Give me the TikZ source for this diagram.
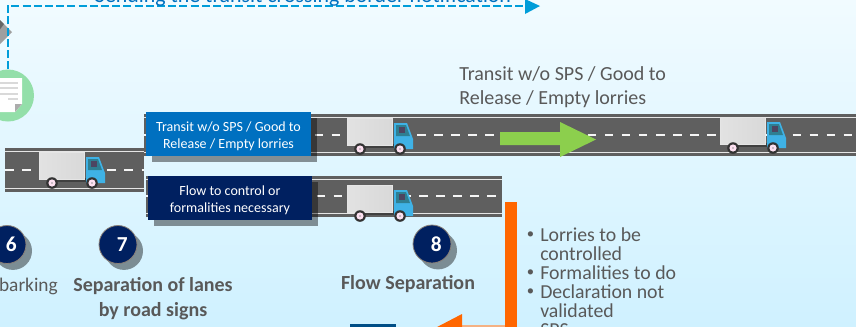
\documentclass[tikz,border=0pt]{standalone}
\usepackage{fontspec}
\setmainfont{Carlito}
\usetikzlibrary{shadows,arrows.meta}
\definecolor{roadgrey}{HTML}{5F5F5F}
\definecolor{stripe}{HTML}{E6E6E6}
\definecolor{txtgrey}{HTML}{595959}
\definecolor{navy}{HTML}{002060}
\definecolor{midblue}{HTML}{0070C0}
\definecolor{dashblue}{HTML}{009DD9}
\definecolor{limeg}{HTML}{8CCF4D}
\definecolor{orng}{HTML}{FF6600}
\definecolor{orngpale}{HTML}{F4B183}
\definecolor{bubble}{HTML}{93DFA9}
\definecolor{skytop}{HTML}{F1FBFF}
\definecolor{skylow}{HTML}{CFF1FF}
\definecolor{cabblue}{HTML}{3FB2E6}
\definecolor{cabglass}{HTML}{2F7F92}
\definecolor{boxgrey}{HTML}{E2E2E2}
\definecolor{discedge}{HTML}{8A8078}
\newcommand{\fs}[2]{\fontsize{#1}{#2}\selectfont}
\tikzset{
  x=0.75pt,y=-0.75pt,
  lblbox/.style={inner sep=0pt,text=white,align=center,font=\fs{10.5}{12.8},
    drop shadow={shadow xshift=4.5pt,shadow yshift=-4.5pt,fill=black,opacity=.42}},
  numdisc/.style={circle,minimum size=28.5pt,inner sep=0pt,fill=navy,draw=discedge,line width=.6pt,
    text=white,font=\fs{16}{18}\bfseries,
    drop shadow={shadow xshift=4.5pt,shadow yshift=-4.8pt,fill=black,opacity=.42}},
  capt/.style={text=txtgrey,align=center,inner sep=0pt,font=\fs{15}{18.5}\bfseries},
  plain/.style={text=txtgrey,inner sep=0pt,anchor=base west,font=\fs{15}{18}},
  blist/.style={text=txtgrey,inner sep=0pt,anchor=base west,font=\fs{14.85}{18}},
  dot/.style={text=txtgrey,inner sep=0pt,anchor=base,font=\fs{11}{12}},
  pics/lorry/.style={code={
    \fill[black!75] (10,26) rectangle (62,30);
    \fill[left color=boxgrey,right color=gray!30] (0,0) rectangle (45,27);
    \draw[white!80!gray,line width=.6pt] (0,0) rectangle (45,27);
    \fill[cabblue] (47,5) -- (60,5) -- (66,21) -- (66,31) -- (47,31) -- cycle;
    \fill[cabglass] (49,7) -- (59,7) -- (63,18) -- (49,18) -- cycle;
    \fill[purple!60!black,opacity=.45] (52,9) rectangle (58,15);
    \foreach \wx in {13,53}{
      \fill[black!80] (\wx,31) circle (5.8);
      \fill[white!88!magenta] (\wx,31) circle (3.6);
      \fill[black!40] (\wx,31) circle (.8);
    }
  }},
}
\newcommand{\roadlane}[6]{% x0,x1,top,bottom,centre,dash start
  \fill[roadgrey] (#1,#3) rectangle (#2,#4);
  \fill[stripe] (#1,#3+3) rectangle (#2,#3+4.4);
  \fill[stripe] (#1,#4-4.4) rectangle (#2,#4-3);
  \draw[white!92!gray,line width=1.1pt,dash pattern=on 6.4pt off 6.4pt,dash phase=#6] (#1,#5) -- (#2,#5);
}
\begin{document}
\begin{tikzpicture}
\path[use as bounding box,clip] (0,0) rectangle (856,326);
\shade[top color=skytop,bottom color=skylow] (0,0) rectangle (856,326);

% roads
\roadlane{5}{144}{148}{192}{170}{0pt}
\roadlane{144}{856}{114}{156}{135}{0pt}
\roadlane{146}{502}{176}{217}{196}{0pt}

% lorries
\pic at (347,118) {lorry};
\pic at (347,185) {lorry};
\pic at (720,117) {lorry};
\pic at (39,152) {lorry};

% diamond
\fill[gray!75] (-10,10) -- (12,32) -- (-10,54) -- (-32,32) -- cycle;
\fill[black!60] (-10,10) -- (4,24) -- (-2,32) -- (-10,40) -- cycle;

% document bubble
\node[circle,fill=bubble,minimum size=39pt,inner sep=0pt] (bub) at (8,95.5) {};
\fill[white] (-5,78) -- (22,78) -- (22,104) -- (15,112) -- (-5,112) -- cycle;
\fill[gray!65] (22,104) -- (15,112) -- (15,104) -- cycle;
\foreach \ly in {83,88,94}{\fill[gray!30] (-5,\ly-.7) rectangle (18,\ly+.7);}
\fill[gray!30] (8,98.3) rectangle (18,99.7);

% notification connector
\coordinate (cornerTL) at (8,5.5);
\coordinate (notifEnd) at (540,6);
\draw[dashblue,line width=1.5pt,dash pattern=on 6pt off 2.4pt] (bub.north) -- (cornerTL) -- (526,5.5);
\fill[dashblue] (525,-1) -- (notifEnd) -- (525,14) -- cycle;
\node[text=midblue,inner sep=0pt,anchor=base,font=\fs{16.4}{18}] (notif) at (303,2) {Sending the transit crossing border notification};

% labels
\node[lblbox,fill=midblue,minimum width=123.75pt,minimum height=33pt] (lblA) at (228.5,134)
  {\rule{0pt}{10pt}Transit w/o SPS / Good to\\Release / Empty lorries};
\node[lblbox,fill=navy,minimum width=123pt,minimum height=33pt] (lblB) at (230,198)
  {\rule{0pt}{10pt}Flow to control or\\formalities necessary};

% heading over road
\node[plain] at (459,80) {Transit w/o SPS / Good to};
\node[plain] at (459,104) {Release / Empty lorries};

% green arrow
\fill[limeg] (500,132) -- (560,132) -- (560,122) -- (596,139.5) -- (560,157) -- (560,145) -- (500,145) -- cycle;

% numbered discs
\node[numdisc] (n6) at (7,244.5) {\hspace*{6.5pt}6};
\node[numdisc] (n7) at (118,244.5) {\hspace*{6.5pt}7};
\node[numdisc] (n8) at (432,244) {\hspace*{6.5pt}8};

% captions
\node[text=txtgrey,inner sep=0pt,anchor=base east,font=\fs{14.5}{18}] at (58,291) {Embarking};
\node[capt,anchor=base] at (153,291) {Separation of lanes};
\node[capt,anchor=base] at (153,316) {by road signs};
\node[capt,anchor=base] at (408,289) {Flow Separation};

% orange connector
\fill[orng] (505,202) rectangle (517,330);
\fill[orngpale] (462,325) rectangle (505,327);
\fill[orng] (462,314) -- (416,338) -- (462,362) -- cycle;
\fill[midblue!70!black] (350,324) rectangle (396,340);

% bullets
\node[blist] at (540,241) {Lorries to be};
\node[blist] at (540,260.5) {controlled};
\node[blist] at (540,279) {Formalities to do};
\node[blist] at (540,298) {Declaration not};
\node[blist] at (540,317.5) {validated};
\node[blist] at (540,336) {SPS};
\node[dot] at (530.5,238) {•};
\node[dot] at (530.5,276) {•};
\node[dot] at (530.5,295) {•};
\end{tikzpicture}
\end{document}
